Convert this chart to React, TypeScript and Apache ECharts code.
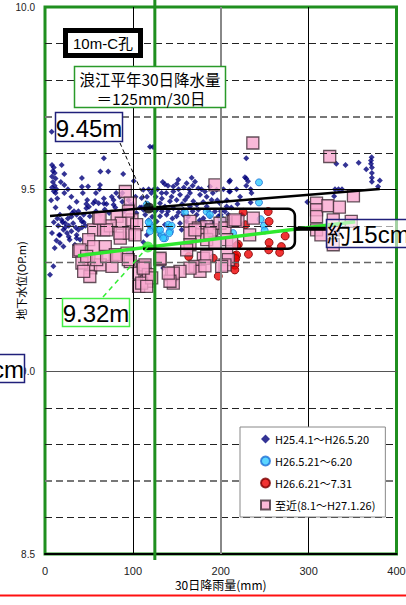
import React, { useEffect, useRef } from 'react';
import * as echarts from 'echarts';

const xTicks = [0, 100, 200, 300, 400];
const yTicks = [8.5, 9.0, 9.5, 10.0];
const seriesNames = ['H25.4.1～H26.5.20', 'H26.5.21～6.20', 'H26.6.21～7.31', '至近(8.1～H27.1.26)'];

const navyPts = [
  [8, 9.567], [10, 9.56], [9, 9.55], [11, 9.545], [8, 9.535], [12, 9.53], [9, 9.52], [11, 9.51], [8, 9.505], [10, 9.495], [12, 9.49], [13, 9.5], [7.6, 9.658],
  [19, 9.567], [22, 9.542], [22, 9.512], [22, 9.49], [42, 9.531], [42, 9.507], [43, 9.49], [49, 9.508],
  [63, 9.549], [72, 9.549], [89, 9.542], [101, 9.523], [67, 9.585], [62.6, 9.512],
  [67, 9.475], [67, 9.461], [57, 9.468], [76, 9.48], [78, 9.471], [88, 9.49], [88, 9.466], [36, 9.466], [47, 9.46], [50, 9.452], [48, 9.471],
  [55, 9.462], [61, 9.462], [70, 9.46], [78, 9.458], [81, 9.49], [85, 9.48], [95, 9.47], [97, 9.458], [110, 9.476], [108, 9.45], [116, 9.48],
  [112, 9.444], [104, 9.435], [119.5, 9.617], [123, 9.616],
  [47, 9.448], [44, 9.43], [51, 9.426], [42, 9.412], [32, 9.407], [38, 9.389], [36, 9.375], [40, 9.362], [34, 9.348], [28, 9.362], [25, 9.38],
  [21, 9.389], [23, 9.407], [19, 9.416], [17, 9.375], [17, 9.353], [21, 9.343], [11, 9.339], [9.5, 9.289], [5.7, 9.266], [16, 9.375], [36, 9.366],
  [33, 9.44], [36, 9.43], [40, 9.42], [44, 9.41], [46, 9.4], [30, 9.425], [27, 9.4], [35, 9.395], [38, 9.44], [42, 9.395], [17, 9.43], [20, 9.41],
  [23, 9.395], [99, 9.334], [28, 9.45], [31, 9.435], [26, 9.42], [14, 9.42], [15, 9.4],
  [136.5, 9.514], [146, 9.508], [151.7, 9.526], [161.2, 9.517], [166.9, 9.532], [170.7, 9.521], [174.5, 9.503], [182, 9.494], [187.7, 9.508],
  [195.3, 9.499], [209.7, 9.521], [209.7, 9.494], [111.9, 9.499], [123.3, 9.499], [132.7, 9.49], [146, 9.494], [153.6, 9.485], [165, 9.49],
  [176.4, 9.485], [184, 9.48], [189.6, 9.471], [199.1, 9.462], [206.7, 9.453], [142.2, 9.467], [149.8, 9.471], [159.3, 9.471], [168.8, 9.467],
  [172.6, 9.458], [130.9, 9.462], [136.5, 9.453], [146, 9.448], [157.4, 9.444], [165, 9.453], [174.5, 9.444], [184, 9.453], [193.4, 9.439],
  [204.8, 9.439], [208.6, 9.43], [125.2, 9.439], [130.9, 9.426], [138.4, 9.43], [149.8, 9.426], [157.4, 9.43], [172.6, 9.43], [180.2, 9.421],
  [187.7, 9.426], [197.2, 9.426], [210.5, 9.417], [127.1, 9.412], [136.5, 9.403], [153.6, 9.407], [161.2, 9.412], [170.7, 9.403], [155.5, 9.389],
  [184, 9.398], [195.3, 9.4], [125.2, 9.389], [130.9, 9.375], [134.6, 9.284],
  [110, 9.45], [114, 9.43], [118, 9.415], [120, 9.395], [116, 9.375], [112, 9.355],
  [134, 9.52], [140, 9.51], [150, 9.515], [158, 9.505], [164, 9.5],
  [118, 9.5], [121, 9.49], [126, 9.48], [128, 9.5], [133, 9.475], [138, 9.49], [144, 9.48], [152, 9.5], [156, 9.46], [162, 9.48], [168, 9.51],
  [178, 9.5], [180, 9.465], [186, 9.44], [191, 9.49], [196, 9.47], [200, 9.44], [203, 9.5], [207, 9.47], [212, 9.45], [219, 9.46], [222, 9.48],
  [224, 9.43], [218, 9.5], [140, 9.44], [145, 9.42], [152, 9.437], [163, 9.425], [168, 9.44], [176, 9.415], [182, 9.41], [190, 9.41], [200, 9.43],
  [122, 9.425], [128, 9.447], [133, 9.44], [58, 9.44], [63, 9.43], [68, 9.445], [73, 9.435], [80, 9.45], [90, 9.44], [100, 9.46], [103, 9.48],
  [92, 9.455], [58, 9.49], [62, 9.5], [30, 9.48], [26, 9.5], [18, 9.52], [14, 9.475], [30, 9.385], [27, 9.37], [13, 9.36], [8, 9.38], [10, 9.41],
  [12, 9.45], [7, 9.47],
  [229, 9.585], [229, 9.53], [231, 9.522], [229, 9.51], [234, 9.5], [235, 9.49], [234, 9.464], [210.5, 9.524], [210.5, 9.494], [227.5, 9.533], [298.5, 9.465],
  [331.5, 9.57], [342, 9.567], [357, 9.573], [365.6, 9.555], [371, 9.579], [371, 9.57], [372, 9.56], [372, 9.545], [372, 9.532], [372, 9.521],
  [381, 9.524], [379, 9.508], [330, 9.5], [334, 9.5], [338, 9.5], [329, 9.481], [371.7, 9.588]
];

const cyanPts = [
  [115.7, 9.458], [119.4, 9.403], [123.2, 9.394], [119.4, 9.385], [128.9, 9.389], [132.7, 9.375], [136.5, 9.366], [140.3, 9.403], [142.2, 9.385],
  [144, 9.4], [130.9, 9.389], [134.6, 9.366], [141.5, 9.38], [159.3, 9.437], [184, 9.439], [187.7, 9.43], [201, 9.417], [243.5, 9.519],
  [243.5, 9.464], [245.4, 9.418], [249.2, 9.4], [250, 9.387], [214, 9.38], [96.7, 9.325], [118, 9.41]
];

const redPts = [
  [225.5, 9.437], [254, 9.439], [228, 9.403], [255, 9.412], [273.3, 9.372], [255, 9.354], [269, 9.343], [267, 9.327], [254.6, 9.334], [231.5, 9.322],
  [220, 9.349], [191.5, 9.311], [197.2, 9.262], [216, 9.318], [216, 9.306], [216, 9.292], [216, 9.279], [163.5, 9.316], [218, 9.345], [218, 9.32], [217, 9.31]
];

const pinkPts = [
  [91.4, 9.494], [97, 9.462], [61, 9.421], [82, 9.426], [86.8, 9.407], [99, 9.416], [55.4, 9.389], [66.7, 9.389], [74.3, 9.4], [85.7, 9.366], [96, 9.38],
  [49.7, 9.362], [55.4, 9.343], [38.3, 9.33], [68.6, 9.343], [80, 9.321], [93.3, 9.325], [97, 9.302], [50, 9.31], [52, 9.285], [51, 9.261], [63, 9.293],
  [76.2, 9.289], [42, 9.298], [44, 9.275], [106.6, 9.27], [106.6, 9.234],
  [104.3, 9.403], [102.4, 9.375], [85.3, 9.38], [70.1, 9.389], [39.8, 9.334], [47.4, 9.316], [58.8, 9.307], [70.1, 9.316], [81.5, 9.316], [94.8, 9.307],
  [111.9, 9.289], [113.8, 9.268], [115.7, 9.248], [130.8, 9.307], [144, 9.266], [146, 9.243],
  [165, 9.412], [174.5, 9.394], [184, 9.398], [189.6, 9.389], [199.1, 9.407], [204.8, 9.394], [214.3, 9.412], [165, 9.38], [178.3, 9.375], [184, 9.362],
  [193.4, 9.353], [206.7, 9.362], [212.4, 9.353], [165, 9.348], [161.2, 9.334], [180.2, 9.311], [170.7, 9.289], [176.4, 9.275], [165, 9.284], [153.6, 9.275],
  [146, 9.27], [142.2, 9.248], [206.7, 9.321], [208.6, 9.307], [204.8, 9.293], [201, 9.289], [130.9, 9.311], [113.8, 9.293], [117.6, 9.266], [110, 9.243],
  [121.4, 9.257], [115.7, 9.234], [95, 9.44], [62.6, 9.421], [170.6, 9.389], [111.8, 9.284], [140.3, 9.27],
  [236.5, 9.627], [193.4, 9.512], [237, 9.421], [232.9, 9.375], [219.6, 9.412], [216.2, 9.416], [187.7, 9.38], [184, 9.316], [182, 9.29],
  [309, 9.462], [309, 9.444], [309, 9.425], [309, 9.389], [314, 9.375], [322, 9.455], [335, 9.451], [328, 9.416], [328, 9.389], [328, 9.348],
  [351, 9.482], [324, 9.59], [348.5, 9.412]
];

const blackTrend = [[5.7, 9.427], [381, 9.501]];
const greenTrend = [[37.5, 9.318], [353, 9.411]];
const blackDot = [118, 9.449];
const greenDot = [117, 9.342];
const normalRain = 125;
const hGridVals = [8.6, 8.7, 8.8, 8.9, 9.0, 9.1, 9.2, 9.3, 9.4, 9.5, 9.6, 9.7, 9.8, 9.9];
const vGridVals = [100, 200, 300];
const bracketX = [111.5, 284.4, 319.7];
const bracketY = [9.4466, 9.337];

const FONT = "'Liberation Sans', Arial, 'Noto Sans CJK JP', sans-serif";
const JFONT = "'Noto Sans CJK JP', 'Liberation Sans', sans-serif";

function hStyle(v: number) {
  const r = Math.round(v * 10);
  const dash = [7, 4];
  if (r === 95) return { type: 'solid', color: '#000', width: 1 };
  if (r === 90) return { type: 'solid', color: '#555', width: 1 };
  if (r === 97 || r === 87) return { type: dash, color: '#777', width: 2 };
  if (r === 93) return { type: dash, color: '#666', width: 1.3 };
  return { type: dash, color: '#222', width: 1 };
}
function vStyle(v: number) {
  if (v === 200) return { type: 'solid', color: '#888', width: 2 };
  return { type: 'solid', color: '#000', width: 1 };
}

export default function App() {
  const ref = useRef<HTMLDivElement>(null);
  useEffect(() => {
    const el = ref.current!;
    const chart = echarts.init(el, null, { renderer: 'svg' });
    const option: any = {
      animation: false,
      backgroundColor: '#fff',
      grid: {
        left: 45, top: 7, right: 9.5, bottom: 51, show: true, borderColor: '#1f8f1f', borderWidth: 3,
        backgroundColor: 'transparent', containLabel: false, outerBoundsMode: 'none'
      },
      xAxis: {
        type: 'value', min: xTicks[0], max: xTicks[xTicks.length - 1], interval: 100,
        name: '30日降雨量(mm)', nameLocation: 'middle', nameGap: 24, nameMoveOverlap: false,
        nameTextStyle: { fontSize: 12, color: '#000', fontFamily: JFONT },
        axisLine: { show: true, lineStyle: { color: '#000', width: 2 } },
        axisTick: { show: false },
        axisLabel: { fontSize: 11, color: '#222', margin: 11, fontFamily: FONT },
        splitLine: { show: false }
      },
      yAxis: {
        type: 'value', min: yTicks[0], max: yTicks[yTicks.length - 1], interval: 0.5,
        name: '地下水位(OP.m)', nameLocation: 'middle', nameGap: 19, nameMoveOverlap: false,
        nameTextStyle: { fontSize: 11, color: '#000', fontFamily: JFONT },
        axisLine: { show: false },
        axisTick: { show: false },
        axisLabel: { fontSize: 10, color: '#222', margin: 10, fontFamily: FONT, formatter: (v: number) => v.toFixed(1) },
        splitLine: { show: false }
      },
      legend: {
        data: seriesNames, orient: 'vertical', left: 240, top: 427, itemWidth: 9, itemHeight: 9, itemGap: 10,
        padding: [6, 10, 6, 20], backgroundColor: '#fff', borderColor: '#888', borderWidth: 1,
        textStyle: { fontSize: 11, color: '#000', fontFamily: JFONT, lineHeight: 12 }, z: 10
      },
      series: [
        {
          type: 'line', name: 'grid', data: [], z: 1, silent: true,
          markLine: {
            silent: true, symbol: 'none', label: { show: false }, animation: false,
            data: [
              ...hGridVals.map(v => ({ yAxis: v, lineStyle: hStyle(v) })),
              ...vGridVals.map(v => ({ xAxis: v, lineStyle: vStyle(v) }))
            ]
          }
        },
        { type: 'scatter', name: seriesNames[0], data: navyPts, symbol: 'diamond', symbolSize: 6, itemStyle: { color: '#00007a' }, z: 2 },
        { type: 'scatter', name: seriesNames[1], data: cyanPts, symbol: 'circle', symbolSize: 7, itemStyle: { color: '#33ccff', borderColor: '#1f6fd6', borderWidth: 1 }, z: 3 },
        { type: 'scatter', name: seriesNames[2], data: redPts, symbol: 'circle', symbolSize: 8, itemStyle: { color: '#ee0000', borderColor: '#7a0000', borderWidth: 1 }, z: 3 },
        { type: 'scatter', name: seriesNames[3], data: pinkPts, symbol: 'rect', symbolSize: 12, itemStyle: { color: '#f9a8cf', borderColor: '#3d2b35', borderWidth: 1.3 }, z: 4 },
        { type: 'line', name: 'blackTrend', data: blackTrend, showSymbol: false, lineStyle: { color: '#000', width: 2.5 }, z: 5, silent: true },
        { type: 'line', name: 'greenTrend', data: greenTrend, showSymbol: false, lineStyle: { color: '#2ee82e', width: 3.5 }, z: 5, silent: true },
        { type: 'scatter', name: 'blackDot', data: [blackDot], symbolSize: 11, itemStyle: { color: '#000' }, z: 6 },
        { type: 'scatter', name: 'greenDot', data: [greenDot], symbolSize: 11, itemStyle: { color: '#2ee82e' }, z: 6 }
      ]
    };
    chart.setOption(option);

    const px = (x: number, y: number) => chart.convertToPixel({ gridIndex: 0 }, [x, y]) as number[];
    const bd = px(blackDot[0], blackDot[1]);
    const gd = px(greenDot[0], greenDot[1]);
    const [g125] = px(normalRain, 10);
    const [bl, bt] = px(bracketX[0], bracketY[0]);
    const [br, bb] = px(bracketX[1], bracketY[1]);
    const [bs] = px(bracketX[2], bracketY[0]);
    const rr = 7;
    const pts: number[][] = [[bl, bt], [br - rr, bt]];
    for (let a = -75; a <= 0; a += 15) {
      const t = (a * Math.PI) / 180;
      pts.push([br - rr + rr * Math.cos(t), bt + rr + rr * Math.sin(t)]);
    }
    pts.push([br, bb - rr]);
    for (let a = 15; a <= 90; a += 15) {
      const t = (a * Math.PI) / 180;
      pts.push([br - rr + rr * Math.cos(t), bb - rr + rr * Math.sin(t)]);
    }
    pts.push([bl, bb]);
    const mid = (bt + bb) / 2;

    const rect = (x: number, y: number, w: number, h: number, stroke: string, lw: number, fill: string, z = 100) => ({
      type: 'rect', shape: { x, y, width: w, height: h }, style: { fill, stroke, lineWidth: lw }, z, silent: true
    });
    const txt = (x: number, y: number, text: string, font: string, align = 'center') => ({
      type: 'text', x, y, z: 101, silent: true,
      style: { text, font, fill: '#000', align, textAlign: align, verticalAlign: 'middle', textVerticalAlign: 'middle' }
    });

    chart.setOption({
      graphic: [
        { type: 'line', shape: { x1: g125, y1: 0, x2: g125, y2: 560 }, style: { stroke: '#1f8f1f', lineWidth: 3 }, z: 90, silent: true },
        { type: 'polyline', shape: { points: pts }, style: { stroke: '#000', lineWidth: 2.5, fill: null }, z: 95, silent: true },
        { type: 'line', shape: { x1: br, y1: mid, x2: bs, y2: mid }, style: { stroke: '#000', lineWidth: 4 }, z: 95, silent: true },
        rect(65.5, 30.5, 75, 25, '#000', 5, '#fff'),
        txt(103, 43.5, '10m-C孔', `15px ${FONT}`),
        rect(74.5, 66.5, 151, 41, '#2a9a2a', 1.5, '#fff'),
        txt(150, 79, '浪江平年30日降水量', `15.5px ${JFONT}`),
        txt(151, 97.5, '＝125mm/30日', `15.5px ${JFONT}`),
        rect(55.5, 112.5, 67, 29, '#20207a', 1.5, '#fff'),
        txt(89, 128, '9.45m', `24px ${FONT}`),
        { type: 'line', shape: { x1: 120, y1: 143, x2: bd[0], y2: bd[1] }, style: { stroke: '#000', lineWidth: 1, lineDash: [4, 3] }, z: 99, silent: true },
        rect(62.5, 298.5, 67, 28, '#44ee44', 1.5, '#fff'),
        txt(96, 313.5, '9.32m', `24px ${FONT}`),
        { type: 'line', shape: { x1: 103, y1: 297, x2: gd[0], y2: gd[1] }, style: { stroke: '#33ee33', lineWidth: 1.5, lineDash: [5, 4] }, z: 99, silent: true },
        rect(326.5, 219.5, 90, 28, '#20207a', 1.5, 'rgba(255,255,255,0.6)'),
        txt(327, 234.5, '約15cm', `24px ${FONT}`, 'left'),
        rect(-60, 354.5, 84.5, 28, '#20207a', 1.5, '#fff'),
        txt(24, 369.5, '約15cm', `24px ${FONT}`, 'right'),
        { type: 'rect', shape: { x: 0, y: 594.5, width: 406, height: 2 }, style: { fill: '#ff1010' }, z: 100, silent: true }
      ]
    });
    return () => chart.dispose();
  }, []);
  return <div ref={ref} style={{ position: 'absolute', left: 0, top: 0, width: 406, height: 605 }} />;
}
